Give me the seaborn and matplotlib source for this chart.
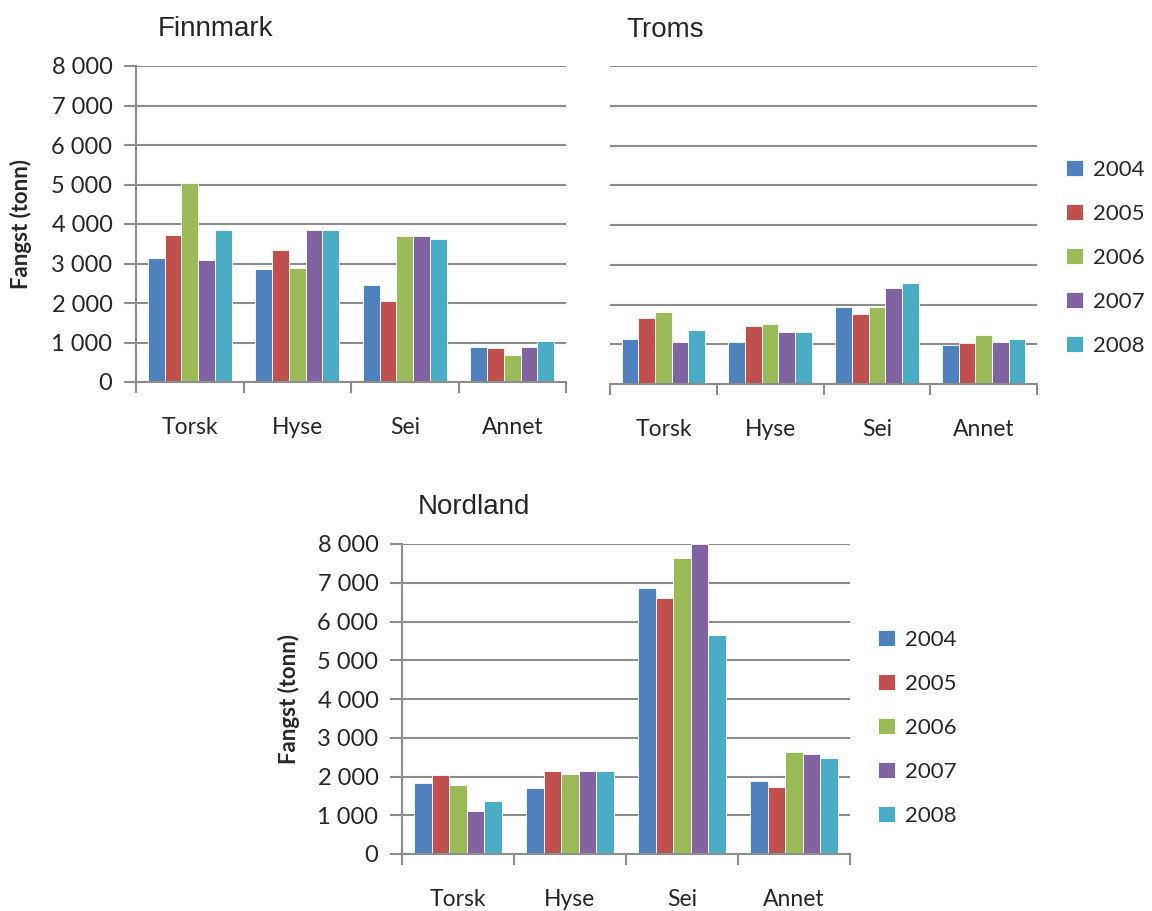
import pandas as pd
import seaborn as sns
import matplotlib.pyplot as plt
from matplotlib.ticker import FixedLocator

# Data (tonn)
species = ["Torsk", "Hyse", "Sei", "Annet"]
years = ["2004", "2005", "2006", "2007", "2008"]
colors = ["#4F81BD", "#C0504D", "#9BBB59", "#8064A2", "#4BACC6"]

finnmark = {
    "2004": [3150, 2850, 2450, 890],
    "2005": [3720, 3330, 2050, 850],
    "2006": [5030, 2890, 3690, 680],
    "2007": [3100, 3840, 3690, 890],
    "2008": [3860, 3840, 3620, 1040],
}
troms = {
    "2004": [1120, 1060, 1940, 980],
    "2005": [1670, 1450, 1770, 1020],
    "2006": [1800, 1520, 1940, 1230],
    "2007": [1060, 1310, 2410, 1060],
    "2008": [1370, 1310, 2550, 1120],
}
nordland = {
    "2004": [1820, 1710, 6860, 1890],
    "2005": [2040, 2150, 6600, 1740],
    "2006": [1780, 2070, 7650, 2630],
    "2007": [1120, 2150, 8000, 2590],
    "2008": [1370, 2150, 5650, 2470],
}

ytick_values = [0, 1000, 2000, 3000, 4000, 5000, 6000, 7000, 8000]
ytick_labels = ["0", "1 000", "2 000", "3 000", "4 000", "5 000", "6 000", "7 000", "8 000"]


def to_long(d):
    rows = []
    for y in years:
        for s, v in zip(species, d[y]):
            rows.append({"art": s, "year": y, "fangst": v})
    return pd.DataFrame(rows)


sns.set_theme(style="white")
plt.rcParams["font.family"] = ["Lato", "DejaVu Sans"]

W, H = 1152, 911
fig = plt.figure(figsize=(W / 100, H / 100), dpi=100)


def make_axes(x0, y_top, x1, y_bot):
    return fig.add_axes([x0 / W, 1 - y_bot / H, (x1 - x0) / W, (y_bot - y_top) / H])


grid_col = "#8C8C8C"


def draw(ax, d, title, title_xy, show_y, legend_anchor=None, ylabel_x=None):
    df = to_long(d)
    sns.barplot(data=df, x="art", y="fangst", hue="year", hue_order=years,
                palette=colors, width=0.78, ax=ax, edgecolor="white",
                linewidth=0.6, legend=legend_anchor is not None, saturation=1)
    ax.set_xlim(-0.5, 3.5)
    ax.set_ylim(0, 8000)
    ax.yaxis.set_major_locator(FixedLocator(ytick_values))
    ax.grid(axis="y", color=grid_col, linewidth=1.5)
    ax.set_axisbelow(True)
    for side in ["top", "right"]:
        ax.spines[side].set_visible(False)
    ax.spines["bottom"].set_color(grid_col)
    ax.spines["bottom"].set_linewidth(1.5)
    ax.xaxis.set_minor_locator(FixedLocator([-0.5, 0.5, 1.5, 2.5, 3.5]))
    ax.tick_params(axis="x", which="major", length=0, pad=25, labelsize=16.5)
    ax.tick_params(axis="x", which="minor", length=8, width=1.5, color=grid_col,
                   direction="out", bottom=True)
    ax.set_xlabel("")
    if show_y:
        ax.set_yticklabels(ytick_labels)
        ax.spines["left"].set_color(grid_col)
        ax.spines["left"].set_linewidth(1.5)
        ax.tick_params(axis="y", length=9, width=1.5, color=grid_col,
                       direction="out", left=True, pad=8, labelsize=17)
        ax.set_ylabel("Fangst (tonn)", fontsize=16, fontweight="bold")
        ax.yaxis.set_label_coords(ylabel_x, 0.5)
    else:
        ax.spines["left"].set_visible(False)
        ax.tick_params(axis="y", length=0, labelleft=False)
        ax.set_ylabel("")
    fig.text(title_xy[0] / W, 1 - title_xy[1] / H, title, fontsize=20,
             family=["Liberation Sans", "DejaVu Sans"], va="center", ha="left")
    if legend_anchor is not None:
        sns.move_legend(ax, "center left", bbox_to_anchor=legend_anchor,
                        frameon=False, title=None, fontsize=16,
                        handlelength=0.75, handleheight=0.75,
                        handletextpad=0.45, labelspacing=1.08,
                        borderpad=0, borderaxespad=0)


ax1 = make_axes(136, 66, 566, 382)
draw(ax1, finnmark, "Finnmark", (158, 29), True, ylabel_x=-0.242)

ax2 = make_axes(610, 66, 1037, 384)
draw(ax2, troms, "Troms", (626, 30), False, legend_anchor=(1.068, 0.397))

ax3 = make_axes(402, 544, 850, 854)
draw(ax3, nordland, "Nordland", (418, 507), True, legend_anchor=(1.063, 0.407),
     ylabel_x=-0.228)

fig.savefig("out.png", dpi=100)
